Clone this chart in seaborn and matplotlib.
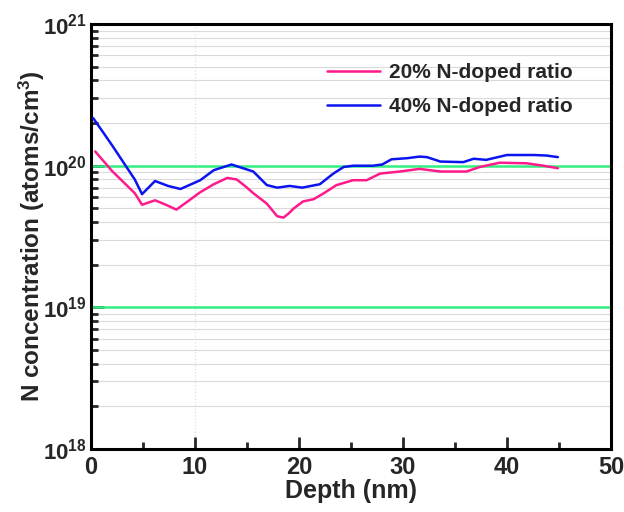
import numpy as np
import pandas as pd
import matplotlib
matplotlib.use("Agg")
import matplotlib.pyplot as plt
import matplotlib.ticker as mticker
import seaborn as sns

# Data
depth_20 = [0.4, 2.0, 4.2, 4.9, 6.15, 7.2, 8.2, 9.3, 10.5, 11.8, 13.1, 14.0, 14.8, 15.6, 16.9,
            17.9, 18.5, 19.0, 19.5, 20.4, 21.4, 22.4, 23.6, 25.2, 26.5, 27.8, 29.7, 31.6,
            33.6, 36.1, 37.4, 39.3, 41.9, 43.5, 44.9]
conc_20 = [1.26e20, 9.2e19, 6.4e19, 5.3e19, 5.7e19, 5.3e19, 4.9e19, 5.6e19, 6.5e19, 7.4e19,
           8.2e19, 8.0e19, 7.2e19, 6.4e19, 5.4e19, 4.4e19, 4.3e19, 4.6e19, 5.0e19, 5.6e19,
           5.8e19, 6.4e19, 7.3e19, 7.9e19, 7.9e19, 8.8e19, 9.1e19, 9.5e19, 9.1e19, 9.1e19,
           9.8e19, 1.05e20, 1.04e20, 1.0e20, 9.6e19]

depth_40 = [0.2, 2.0, 4.2, 4.9, 6.15, 7.4, 8.6, 10.5, 11.8, 13.5, 15.6, 16.9, 17.9, 19.1,
            20.3, 22.0, 23.3, 24.3, 25.2, 27.1, 28.0, 28.9, 30.4, 31.6, 32.3, 33.6, 35.8,
            36.8, 38.0, 40.0, 42.6, 43.8, 44.9]
conc_40 = [2.17e20, 1.4e20, 8.0e19, 6.3e19, 7.8e19, 7.2e19, 6.85e19, 7.9e19, 9.3e19, 1.02e20,
           9.1e19, 7.3e19, 7.0e19, 7.2e19, 7.0e19, 7.4e19, 8.8e19, 9.8e19, 1.0e20, 1.0e20,
           1.02e20, 1.11e20, 1.13e20, 1.16e20, 1.15e20, 1.07e20, 1.06e20, 1.12e20, 1.10e20,
           1.19e20, 1.19e20, 1.18e20, 1.15e20]

labels = ["20% N-doped ratio", "40% N-doped ratio"]
ref_levels = [1e20, 1e19]

df = pd.concat([
    pd.DataFrame({"Depth": depth_20, "Conc": conc_20, "Sample": labels[0]}),
    pd.DataFrame({"Depth": depth_40, "Conc": conc_40, "Sample": labels[1]}),
])

sns.set_style("ticks")
plt.rcParams["font.family"] = ["Liberation Sans", "DejaVu Sans"]
plt.rcParams["font.weight"] = "bold"
plt.rcParams["mathtext.fontset"] = "custom"
plt.rcParams["mathtext.rm"] = "Liberation Sans:bold"
plt.rcParams["mathtext.bf"] = "Liberation Sans:bold"
plt.rcParams["mathtext.it"] = "Liberation Sans:bold"
plt.rcParams["mathtext.default"] = "bf"

fig = plt.figure(figsize=(6.24, 5.12), dpi=100)
ax = fig.add_axes([0.146, 0.123, 0.833, 0.830])

# minor-decade grid
ax.set_yscale("log")
for dec in [1e18, 1e19, 1e20]:
    for m in range(2, 10):
        ax.axhline(m * dec, color="#dadada", lw=0.8, zorder=0)
ax.axvline(10, color="#cce8e8", lw=0.9, ls=":", zorder=0)
for lv in ref_levels:
    ax.axhline(lv, color="#33ee80", lw=1.8, zorder=1)

sns.lineplot(data=df, x="Depth", y="Conc", hue="Sample",
             palette={labels[0]: "#ff1a8c", labels[1]: "#0a14f0"},
             lw=1.8, ax=ax, sort=False, estimator=None, zorder=3)

ax.set_xlim(0, 50)
ax.set_ylim(1e18, 1e21)
ax.set_xticks([0, 10, 20, 30, 40, 50])
ax.xaxis.set_minor_locator(mticker.MultipleLocator(5))
ax.yaxis.set_major_locator(mticker.LogLocator(base=10))
ax.yaxis.set_minor_locator(mticker.LogLocator(base=10, subs=np.arange(2, 10)))
ax.yaxis.set_minor_formatter(mticker.NullFormatter())
ax.yaxis.set_major_formatter(mticker.FuncFormatter(lambda v, p: r"$10^{%d}$" % round(np.log10(v))))

ax.tick_params(axis="both", which="major", direction="in", length=9, width=2,
               top=False, right=False)
ax.tick_params(axis="x", which="major", pad=5, labelsize=17)
ax.tick_params(axis="y", which="major", pad=3, labelsize=16)
ax.tick_params(axis="both", which="minor", direction="in", length=5, width=2,
               top=False, right=False)
for sp in ax.spines.values():
    sp.set_linewidth(2.2)
    sp.set_color("black")

ax.set_xlabel("Depth (nm)", fontsize=18, fontweight="bold", labelpad=0)
ax.set_ylabel(r"N concentration (atoms/cm$^3$)", fontsize=17.5, fontweight="bold", labelpad=-3)

leg = ax.legend(loc="upper right", bbox_to_anchor=(0.962, 0.952), frameon=False,
                prop={"size": 15, "weight": "bold"}, handlelength=2.55, handletextpad=0.4,
                labelspacing=0.7)

fig.savefig("out.png", dpi=100)
